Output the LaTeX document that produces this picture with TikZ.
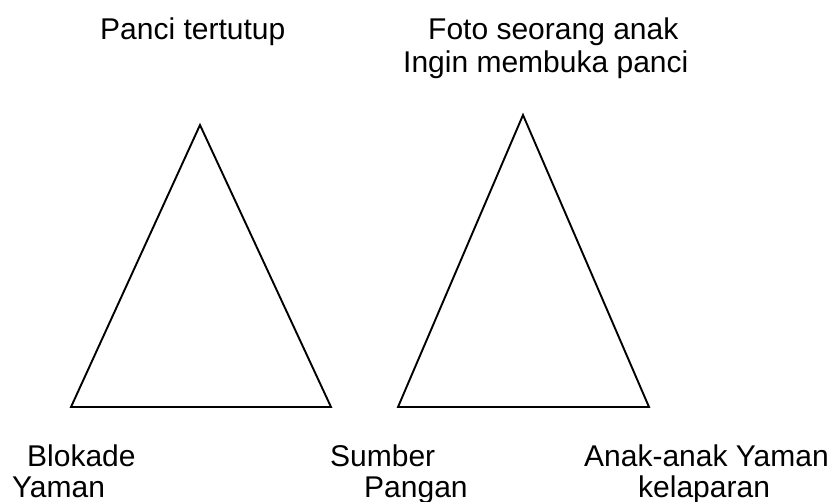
\documentclass[tikz,border=0pt]{standalone}
\usepackage{fontspec}
\setmainfont{Liberation Sans}
\begin{document}
\begin{tikzpicture}[x=1pt,y=-1pt,
  lbl/.style={anchor=base west,inner sep=0pt,font=\fontsize{30}{36}\selectfont},
  tri/.style={draw=black,line width=1.9pt,line join=miter}]
\useasboundingbox (0,0) rectangle (829,502);
\coordinate (a1) at (200,125);
\coordinate (b1) at (71,407);
\coordinate (c1) at (331,407);
\coordinate (a2) at (523,115);
\coordinate (b2) at (398,407);
\coordinate (c2) at (649,407);
\draw[tri] (a1) -- (b1) -- (c1) -- cycle;
\draw[tri] (a2) -- (b2) -- (c2) -- cycle;
\node[lbl] (t1) at (100,40) {Panci tertutup};
\node[lbl] (t2) at (428,40) {Foto seorang anak};
\node[lbl] (t3) at (403,73) {Ingin membuka panci};
\node[lbl] (l1) at (27,466) {Blokade};
\node[lbl] (l2) at (12,497) {Yaman};
\node[lbl] (m1) at (330,466) {Sumber};
\node[lbl] (m2) at (364,497) {Pangan};
\node[lbl] (r1) at (584,466) {Anak-anak Yaman};
\node[lbl] (r2) at (638,497) {kelaparan};
\end{tikzpicture}
\end{document}
